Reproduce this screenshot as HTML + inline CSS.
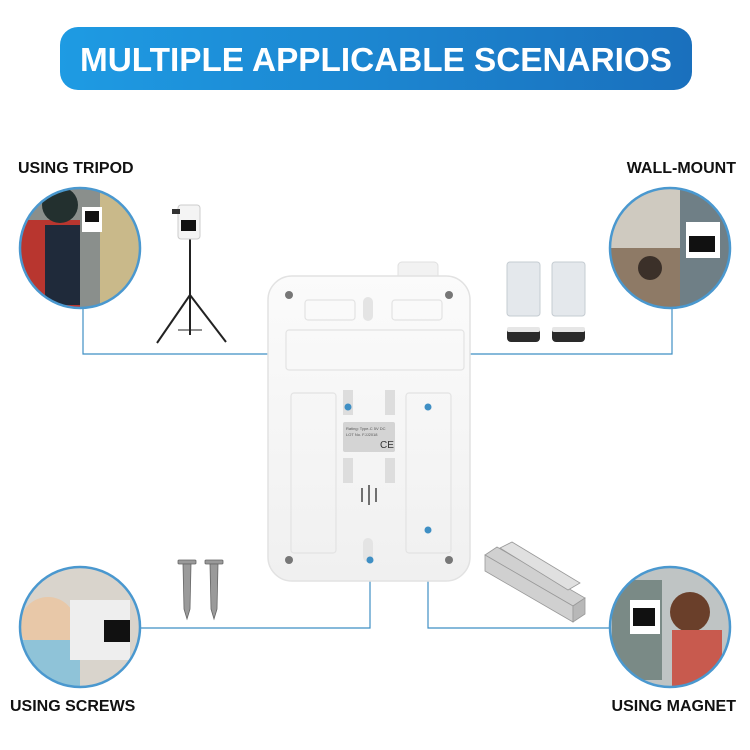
<!DOCTYPE html>
<html><head><meta charset="utf-8"><style>
html,body{margin:0;padding:0;background:#fff;}
svg{display:block}
</style></head><body>
<svg width="750" height="750" viewBox="0 0 750 750" xmlns="http://www.w3.org/2000/svg" font-family="Liberation Sans, sans-serif">
<defs>
<linearGradient id="bn" x1="0" x2="1" y1="0" y2="0"><stop offset="0" stop-color="#1e9be3"/><stop offset="1" stop-color="#1a70bd"/></linearGradient>
<linearGradient id="dev" x1="0" x2="0" y1="0" y2="1"><stop offset="0" stop-color="#fbfbfb"/><stop offset="1" stop-color="#f0f0f0"/></linearGradient>
<clipPath id="c1"><circle cx="80" cy="248" r="60"/></clipPath>
<clipPath id="c2"><circle cx="670" cy="248" r="60"/></clipPath>
<clipPath id="c3"><circle cx="80" cy="627" r="60"/></clipPath>
<clipPath id="c4"><circle cx="670" cy="627" r="60"/></clipPath>
</defs>
<rect x="60" y="27" width="632" height="63" rx="18" fill="url(#bn)"/>
<text x="376" y="71" text-anchor="middle" font-size="33" font-weight="bold" fill="#fff" textLength="592" lengthAdjust="spacingAndGlyphs">MULTIPLE APPLICABLE SCENARIOS</text>

<text x="18" y="173" font-size="16" font-weight="bold" fill="#111">USING TRIPOD</text>
<text x="736" y="173" text-anchor="end" font-size="16" font-weight="bold" fill="#111">WALL-MOUNT</text>
<text x="10" y="711" font-size="16" font-weight="bold" fill="#111">USING SCREWS</text>
<text x="736" y="711" text-anchor="end" font-size="16" font-weight="bold" fill="#111">USING MAGNET</text>

<!-- connectors -->
<g stroke="#3f8fc4" stroke-width="1.2" fill="none">
<polyline points="83,308 83,354 348,354 348,407"/>
<polyline points="672,308 672,354 428,354 428,407"/>
<polyline points="140,628 370,628 370,560"/>
<polyline points="428,530 428,628 612,628"/>
</g>

<!-- circles -->
<g clip-path="url(#c1)">
<rect x="20" y="188" width="120" height="120" fill="#8a8f8c"/>
<rect x="100" y="188" width="40" height="120" fill="#c9b98a"/>
<rect x="20" y="220" width="60" height="90" fill="#b8362f"/>
<rect x="45" y="225" width="35" height="80" fill="#1f2a3a"/>
<circle cx="60" cy="205" r="18" fill="#23302f"/>
<rect x="82" y="207" width="20" height="25" fill="#fff"/>
<rect x="85" y="211" width="14" height="11" fill="#111"/>
</g>
<circle cx="80" cy="248" r="60" fill="none" stroke="#4a98cf" stroke-width="2.5"/>
<g clip-path="url(#c2)">
<rect x="610" y="188" width="120" height="120" fill="#8e7a66"/>
<rect x="610" y="188" width="120" height="60" fill="#cfcac0"/>
<rect x="680" y="188" width="50" height="120" fill="#6f7f86"/>
<rect x="686" y="222" width="34" height="36" fill="#fff"/>
<rect x="689" y="236" width="26" height="16" fill="#111"/>
<circle cx="650" cy="268" r="12" fill="#3b3029"/>
</g>
<circle cx="670" cy="248" r="60" fill="none" stroke="#4a98cf" stroke-width="2.5"/>
<g clip-path="url(#c3)">
<rect x="20" y="567" width="120" height="120" fill="#d9d4cc"/>
<circle cx="48" cy="625" r="28" fill="#e8c8a8"/>
<rect x="20" y="640" width="60" height="50" fill="#8fc3d8"/>
<rect x="70" y="600" width="60" height="60" fill="#eee"/>
<rect x="104" y="620" width="26" height="22" fill="#111"/>
</g>
<circle cx="80" cy="627" r="60" fill="none" stroke="#4a98cf" stroke-width="2.5"/>
<g clip-path="url(#c4)">
<rect x="610" y="567" width="120" height="120" fill="#bfc4c4"/>
<rect x="612" y="580" width="50" height="100" fill="#7a8a86"/>
<rect x="630" y="600" width="30" height="34" fill="#fff"/>
<rect x="633" y="608" width="22" height="18" fill="#111"/>
<circle cx="690" cy="612" r="20" fill="#6a3f2a"/>
<rect x="672" y="630" width="50" height="57" fill="#c85a4e"/>
</g>
<circle cx="670" cy="627" r="60" fill="none" stroke="#4a98cf" stroke-width="2.5"/>

<!-- tripod -->
<g stroke="#222" stroke-width="2" fill="none">
<line x1="190" y1="238" x2="190" y2="318"/>
<line x1="190" y1="295" x2="157" y2="343"/>
<line x1="190" y1="295" x2="226" y2="342"/>
<line x1="190" y1="300" x2="190" y2="335"/>
<line x1="178" y1="330" x2="202" y2="330" stroke-width="1"/>
</g>
<rect x="178" y="205" width="22" height="34" rx="3" fill="#f4f4f4" stroke="#ccc"/>
<rect x="181" y="220" width="15" height="11" fill="#111"/>
<rect x="172" y="209" width="8" height="5" fill="#333"/>

<!-- 3M tapes -->
<g fill="#e4e8ec" stroke="#c5ccd2">
<rect x="507" y="262" width="33" height="54" rx="3"/>
<rect x="552" y="262" width="33" height="54" rx="3"/>
</g>
<g fill="#2a2a2a">
<rect x="507" y="327" width="33" height="15" rx="4"/>
<rect x="552" y="327" width="33" height="15" rx="4"/>
</g>
<rect x="507" y="327" width="33" height="5" rx="2" fill="#e6e6e6"/>
<rect x="552" y="327" width="33" height="5" rx="2" fill="#e6e6e6"/>

<!-- device -->
<rect x="398" y="262" width="40" height="20" rx="4" fill="#f2f2f2" stroke="#e0e0e0"/>
<rect x="268" y="276" width="202" height="305" rx="24" fill="url(#dev)" stroke="#e2e2e2" stroke-width="1.5"/>
<g fill="none" stroke="#e3e3e3" stroke-width="1.2">
<rect x="305" y="300" width="50" height="20" rx="3"/>
<rect x="392" y="300" width="50" height="20" rx="3"/>
<rect x="286" y="330" width="178" height="40" rx="3"/>
<rect x="291" y="393" width="45" height="160" rx="3"/>
<rect x="406" y="393" width="45" height="160" rx="3"/>
</g>
<path d="M368 297 a5 5 0 0 1 5 5 v14 a5 5 0 0 1 -10 0 v-14 a5 5 0 0 1 5 -5z" fill="#e4e4e4"/>
<path d="M368 538 a5 5 0 0 1 5 5 v14 a5 5 0 0 1 -10 0 v-14 a5 5 0 0 1 5 -5z" fill="#e4e4e4"/>
<g fill="#ddd">
<rect x="343" y="390" width="10" height="25"/><rect x="385" y="390" width="10" height="25"/>
<rect x="343" y="458" width="10" height="25"/><rect x="385" y="458" width="10" height="25"/>
</g>
<rect x="343" y="422" width="52" height="30" rx="2" fill="#d4d4d4"/>
<text x="346" y="430" font-size="4" fill="#555">Rating: Type-C 5V DC</text>
<text x="346" y="436" font-size="4" fill="#555">LOT No. FJJ2018</text>
<text x="380" y="448" font-size="10" fill="#333">CE</text>
<g stroke="#444" stroke-width="1.5">
<line x1="362" y1="488" x2="362" y2="502"/><line x1="369" y1="485" x2="369" y2="505"/><line x1="376" y1="488" x2="376" y2="502"/>
</g>
<g fill="#777">
<circle cx="289" cy="295" r="4"/><circle cx="449" cy="295" r="4"/>
<circle cx="289" cy="560" r="4"/><circle cx="449" cy="560" r="4"/>
</g>
<g fill="#3f8fc4">
<circle cx="348" cy="407" r="3.5"/><circle cx="428" cy="407" r="3.5"/>
<circle cx="428" cy="530" r="3.5"/><circle cx="370" cy="560" r="3.5"/>
</g>

<!-- screws -->
<g fill="#9a9a9a" stroke="#666" stroke-width="0.8">
<rect x="178" y="560" width="18" height="4" rx="1"/>
<path d="M183 564 h8 l-1 45 l-3 10 l-3 -10z"/>
<rect x="205" y="560" width="18" height="4" rx="1"/>
<path d="M210 564 h8 l-1 45 l-3 10 l-3 -10z"/>
</g>

<!-- magnets -->
<g fill="#d0d0d0" stroke="#999" stroke-width="0.8">
<polygon points="485,555 497,547 585,598 573,606"/>
<polygon points="485,555 573,606 573,622 485,571"/>
<polygon points="573,606 585,598 585,614 573,622" fill="#b8b8b8"/>
<polygon points="500,548 512,542 580,583 568,590" fill="#e0e0e0"/>
</g>
</svg>
</body></html>
